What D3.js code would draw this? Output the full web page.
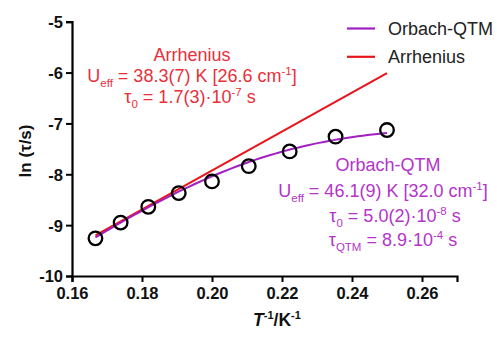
<!DOCTYPE html>
<html>
<head>
<meta charset="utf-8">
<script src="https://cdn.jsdelivr.net/npm/d3@7"></script>
<style>
  html, body { margin: 0; padding: 0; background: #fff; }
  svg { display: block; font-family: "Liberation Sans", Arial, sans-serif; }
</style>
</head>
<body>
<svg id="chart" width="497" height="338"></svg>
<script>
// Measured relaxation times: inverse temperature (1/K) and ln(tau/s)
const invT = [0.1667, 0.1739, 0.1818, 0.1905, 0.2000, 0.2105, 0.2222, 0.2353, 0.2500];
const lnTau = [-9.26, -8.95, -8.64, -8.37, -8.14, -7.84, -7.55, -7.26, -7.13];

// Fit parameters as printed in the annotations
const arrhenius = { Ueff: 38.3, tau0: 1.7e-7 };
const orbachQTM = { Ueff: 46.1, tau0: 5.0e-8, tauQTM: 8.9e-4 };

const xTicks = [0.16, 0.18, 0.20, 0.22, 0.24, 0.26];
const yTicks = [-10, -9, -8, -7, -6, -5];

const colors = { orbach: "#a21fc4", arrhenius: "#e8141c", orbachText: "#b434c8", arrText: "#e8303a" };

const svg = d3.select("#chart");
const x = d3.scaleLinear().domain([0.16, 0.27]).range([72, 457]);
const y = d3.scaleLinear().domain([-10, -5]).range([276, 21.7]);

// Fit curves evaluated across the data range
const xs = d3.range(0, 61).map(i => invT[0] + (invT[invT.length - 1] - invT[0]) * i / 60);
const arrLine = [invT[0], invT[invT.length - 1]].map(v => [v, Math.log(arrhenius.tau0) + arrhenius.Ueff * v]);
const orbLine = xs.map(v => {
  const rate = 1 / orbachQTM.tauQTM + Math.exp(-orbachQTM.Ueff * v) / orbachQTM.tau0;
  return [v, Math.log(1 / rate)];
});

const line = d3.line().x(d => x(d[0])).y(d => y(d[1]));

svg.append("path").attr("d", line(arrLine)).attr("fill", "none")
  .attr("stroke", colors.arrhenius).attr("stroke-width", 2);
svg.append("path").attr("d", line(orbLine)).attr("fill", "none")
  .attr("stroke", colors.orbach).attr("stroke-width", 2);

// Axes
const xAxis = svg.append("g").attr("transform", "translate(0,276)")
  .call(d3.axisBottom(x).tickValues(xTicks).tickFormat(d3.format(".2f")).tickSizeOuter(0).tickSize(6).tickPadding(5));
const yAxis = svg.append("g").attr("transform", "translate(72,0)")
  .call(d3.axisLeft(y).tickValues(yTicks).tickFormat(d => String(d)).tickSizeOuter(0).tickSize(6).tickPadding(3));

[xAxis, yAxis].forEach(g => {
  g.select(".domain").attr("stroke", "#000").attr("stroke-width", 2.2);
  g.selectAll(".tick line").attr("stroke", "#000").attr("stroke-width", 2);
  g.selectAll(".tick text").attr("fill", "#111").attr("font-size", 16.5).attr("font-weight", "bold")
    .attr("font-family", "'Liberation Sans', Arial, sans-serif");
});
yAxis.selectAll(".tick text").attr("dy", "0.36em");

// Data points
svg.append("g").selectAll("circle").data(invT.map((v, i) => [v, lnTau[i]])).join("circle")
  .attr("cx", d => x(d[0])).attr("cy", d => y(d[1])).attr("r", 6.8)
  .attr("fill", "none").attr("stroke", "#000").attr("stroke-width", 2.3);

// Axis titles
svg.append("text").attr("transform", "translate(31,151) rotate(-90)").attr("text-anchor", "middle")
  .attr("font-size", 17).attr("font-weight", "bold").attr("fill", "#111").text("ln (τ/s)");

const xt = svg.append("text").attr("x", 277).attr("y", 326).attr("text-anchor", "middle")
  .attr("font-size", 17.5).attr("font-weight", "bold").attr("fill", "#111");
xt.append("tspan").attr("font-style", "italic").text("T");
xt.append("tspan").attr("font-size", 11).attr("dy", -7).text("-1");
xt.append("tspan").attr("dy", 7).text("/K");
xt.append("tspan").attr("font-size", 11).attr("dy", -7).text("-1");

// Legend
const legend = [["Orbach-QTM", colors.orbach], ["Arrhenius", colors.arrhenius]];
legend.forEach((d, i) => {
  const ly = 28.5 + i * 28.3;
  svg.append("line").attr("x1", 347).attr("x2", 375).attr("y1", ly).attr("y2", ly)
    .attr("stroke", d[1]).attr("stroke-width", 2.2);
  svg.append("text").attr("x", 388).attr("y", ly + 6.5).attr("font-size", 18).attr("fill", "#222").text(d[0]);
});

// Annotation rows: plain strings, {sub} and {sup} pieces
function annotate(rows, color) {
  rows.forEach(r => {
    const t = svg.append("text").attr("x", r.x).attr("y", r.y).attr("text-anchor", "middle")
      .attr("font-size", 18).attr("fill", color);
    let shift = 0;
    r.parts.forEach(p => {
      const target = typeof p === "string" ? 0 : (p.sub ? 5 : -7);
      const span = t.append("tspan").attr("dy", target - shift);
      shift = target;
      if (typeof p === "string") span.text(p);
      else span.attr("font-size", 11.5).text(p.sub || p.sup);
    });
  });
}

annotate([
  { x: 192, y: 61, parts: ["Arrhenius"] },
  { x: 192, y: 82, parts: ["U", { sub: "eff" }, " = 38.3(7) K [26.6 cm", { sup: "-1" }, "]"] },
  { x: 190, y: 103, parts: ["τ", { sub: "0" }, " = 1.7(3)·10", { sup: "-7" }, " s"] }
], colors.arrText);

annotate([
  { x: 388, y: 171, parts: ["Orbach-QTM"] },
  { x: 383, y: 196.5, parts: ["U", { sub: "eff" }, " = 46.1(9) K [32.0 cm", { sup: "-1" }, "]"] },
  { x: 395, y: 221.5, parts: ["τ", { sub: "0" }, " = 5.0(2)·10", { sup: "-8" }, " s"] },
  { x: 393, y: 246, parts: ["τ", { sub: "QTM" }, " = 8.9·10", { sup: "-4" }, " s"] }
], colors.orbachText);
</script>
</body>
</html>
